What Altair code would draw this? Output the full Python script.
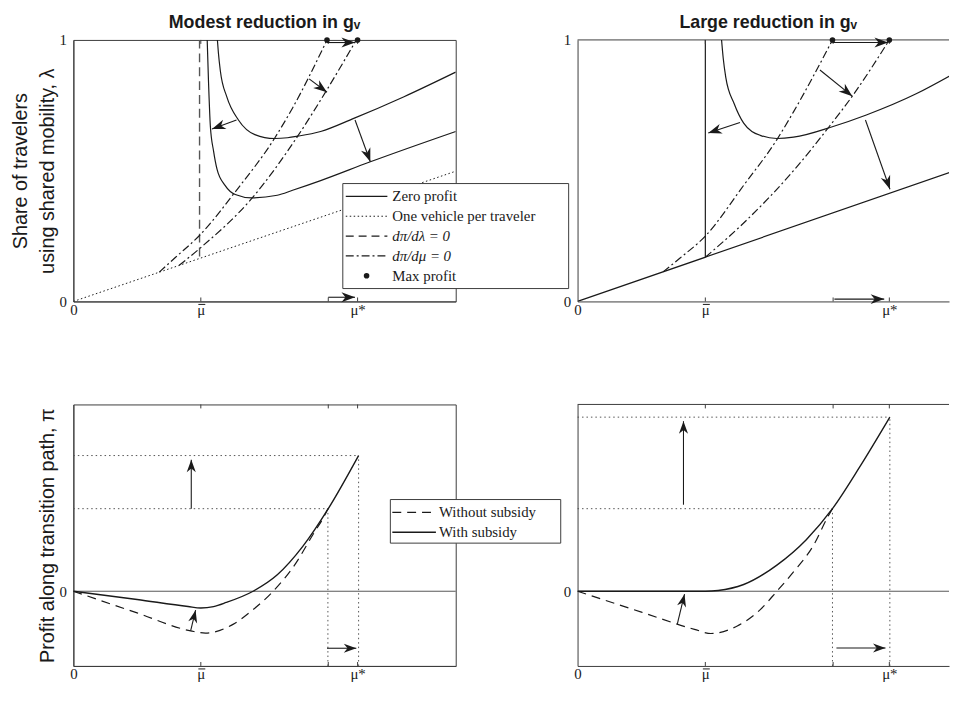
import math
import altair as alt
import pandas as pd

# ------------------------------------------------------------------ data
MU_BAR = 1.0          # labelled tick  "mu bar"
MU_OLD = 2.0          # unlabelled tick (previous optimum)
MU_STAR_L = 2.23      # labelled tick "mu*" (left panels)
MU_STAR_R = 2.44      # labelled tick "mu*" (right panels)
X_MAX_L = 3.0
X_MAX_R = 2.907

# ---- top-left : modest reduction in g_v
TL_ZP_BEFORE_MU = [1.13, 1.138, 1.153, 1.204, 1.295, 1.424, 1.579, 1.68, 1.76, 1.94, 2.2, 2.59, 3.0]
TL_ZP_BEFORE_LAM = [1.0, 0.95, 0.882, 0.782, 0.694, 0.638, 0.623, 0.626, 0.632, 0.650, 0.70, 0.782, 0.877]
TL_ZP_AFTER_MU = [1.05, 1.06, 1.075, 1.10, 1.127, 1.19, 1.27, 1.40, 1.60, 1.72, 1.94, 2.33, 3.0]
TL_ZP_AFTER_LAM = [1.0, 0.845, 0.669, 0.575, 0.506, 0.444, 0.409, 0.396, 0.406, 0.425, 0.462, 0.534, 0.650]
TL_ONEVEH_MU = [0.0, 3.0]
TL_ONEVEH_LAM = [0.0, 0.498]
TL_DPDL_MU = [0.99, 0.99]
TL_DPDL_LAM = [0.172, 1.0]
TL_DPDM_BEFORE_MU = [0.674, 0.80, 0.997, 1.27, 1.58, 1.72, 1.99]
TL_DPDM_BEFORE_LAM = [0.112, 0.168, 0.256, 0.419, 0.625, 0.74, 1.0]
TL_DPDM_AFTER_MU = [0.83, 0.997, 1.40, 1.76, 1.99, 2.22]
TL_DPDM_AFTER_LAM = [0.138, 0.205, 0.394, 0.632, 0.81, 1.0]
TL_MAX_MU = [1.99, 2.23]
TL_MAX_LAM = [1.0, 1.0]
TL_ARR_FROM_MU = [1.28, 2.21, 1.85, 1.99, 2.0]
TL_ARR_FROM_LAM = [0.694, 0.694, 0.851, 0.99, 0.016]
TL_ARR_TO_MU = [1.088, 2.33, 1.99, 2.21, 2.21]
TL_ARR_TO_LAM = [0.659, 0.534, 0.80, 0.99, 0.016]

# ---- top-right : large reduction in g_v
TR_ZP_BEFORE_MU = [1.127, 1.14, 1.16, 1.225, 1.30, 1.43, 1.56, 1.69, 2.0, 2.26, 2.65, 2.915]
TR_ZP_BEFORE_LAM = [1.0, 0.93, 0.857, 0.757, 0.682, 0.635, 0.623, 0.628, 0.669, 0.713, 0.794, 0.863]
TR_ZP_AFTER_MU = [1.0, 1.0, 0.0, 2.915]
TR_ZP_AFTER_LAM = [1.0, 0.169, 0.0, 0.494]
TR_DPDM_BEFORE_MU = [0.669, 0.80, 0.998, 1.30, 1.56, 1.69, 1.995]
TR_DPDM_BEFORE_LAM = [0.113, 0.165, 0.249, 0.444, 0.619, 0.725, 1.0]
TR_DPDM_AFTER_MU = [1.0, 1.30, 1.69, 1.97, 2.15, 2.44]
TR_DPDM_AFTER_LAM = [0.169, 0.30, 0.50, 0.669, 0.785, 1.0]
TR_MAX_MU = [1.995, 2.44]
TR_MAX_LAM = [1.0, 1.0]
TR_ARR_FROM_MU = [1.271, 1.897, 2.253, 1.995, 2.01]
TR_ARR_FROM_LAM = [0.684, 0.885, 0.694, 0.99, 0.009]
TR_ARR_TO_MU = [1.023, 2.15, 2.445, 2.43, 2.40]
TR_ARR_TO_LAM = [0.644, 0.785, 0.429, 0.99, 0.009]

# ---- bottom-left : profit along transition path
BL_WITH_MU = [0.0, 0.5, 0.9, 1.0, 1.1, 1.2, 1.41, 1.6, 1.8, 2.0, 2.238]
BL_WITH_PI = [0.0, -0.11, -0.205, -0.224, -0.205, -0.15, 0.0, 0.22, 0.6, 1.105, 1.816]
BL_WO_MU = [0.0, 0.5, 0.92, 1.036, 1.256, 1.40, 1.553, 1.734, 1.889, 1.967, 1.997]
BL_WO_PI = [0.0, -0.29, -0.53, -0.56, -0.44, -0.26, -0.026, 0.346, 0.785, 1.0, 1.105]
BL_LEVEL_MU = [1.997, 2.238]
BL_LEVEL_PI = [1.105, 1.816]
BL_ARR_FROM_MU = [0.925, 0.92, 1.99]
BL_ARR_FROM_PI = [1.105, -0.53, -0.763]
BL_ARR_TO_MU = [0.925, 0.959, 2.22]
BL_ARR_TO_PI = [1.76, -0.254, -0.763]

# ---- bottom-right
BR_WITH_MU = [0.0, 1.0, 1.1, 1.3, 1.56, 1.79, 1.995, 2.207, 2.444]
BR_WITH_PI = [0.0, 0.0, 0.01, 0.09, 0.35, 0.69, 1.105, 1.66, 2.33]
BR_WO_MU = [0.0, 0.5, 0.915, 1.044, 1.25, 1.43, 1.56, 1.69, 1.845, 1.96, 1.995]
BR_WO_PI = [0.0, -0.28, -0.51, -0.566, -0.465, -0.246, 0.0, 0.259, 0.61, 1.0, 1.105]
BR_LEVEL_MU = [1.995, 2.444]
BR_LEVEL_PI = [1.105, 2.33]
BR_ARR_FROM_MU = [0.829, 0.78, 2.026]
BR_ARR_FROM_PI = [1.158, -0.443, -0.76]
BR_ARR_TO_MU = [0.829, 0.837, 2.41]
BR_ARR_TO_PI = [2.276, -0.04, -0.76]

TOP_LEGEND = ["Zero profit", "One vehicle per traveler", "dπ/dλ = 0", "dπ/dμ = 0", "Max profit"]
BOT_LEGEND = ["Without subsidy", "With subsidy"]

# ------------------------------------------------------------------ style
INK = "#1a1a1a"
FRAME = "#3c3c3c"
GREY = "#555555"
SANS = "Liberation Sans, Arial, sans-serif"
SERIF = "Liberation Serif, DejaVu Serif, serif"
W_L, W_R, H = 386, 375, 264
LW = 1.2
DASH = [8, 5]
DASHDOT = [8, 3, 2, 3]
DOT = [1.5, 2.5]
ARROW_SHAPE = "M0,0 L-0.62,1.7 L0,1.2 L0.62,1.7 Z"


class Panel:
    def __init__(self, width, xmax, mu_star, ydom, yvalues, ytitle, framed):
        self.width = width
        self.xmax = xmax
        self.mu_star = mu_star
        self.ydom = ydom
        self.kx = width / xmax
        self.ky = H / (ydom[1] - ydom[0])
        self.framed = framed
        self.layers = []
        self.xaxis = alt.Axis(
            values=[0, MU_BAR, mu_star],
            labelExpr="datum.value == 0 ? '0' : (datum.value == 1 ? 'μ' : 'μ*')",
            ticks=False, grid=False, domain=True, domainColor=FRAME, domainWidth=1,
            labelFont=SERIF, labelFontSize=15, labelColor=INK, labelPadding=1,
            labelFlush=False, labelOverlap=False, title=None)
        self.yaxis = alt.Axis(
            values=yvalues, format=".0f",
            ticks=False, grid=False, domain=True, domainColor=FRAME, domainWidth=1,
            labelFont=SERIF, labelFontSize=15, labelColor=INK, labelPadding=7,
            labelFlush=False, labelOverlap=False,
            title=ytitle, titleFont=SANS, titleFontSize=20, titleFontWeight="normal",
            titleColor=INK, titleLineHeight=27, titlePadding=2)

    def X(self, f):
        return alt.X(f"{f}:Q", scale=alt.Scale(domain=[0, self.xmax], nice=False, zero=False),
                     axis=self.xaxis)

    def Y(self, f):
        return alt.Y(f"{f}:Q", scale=alt.Scale(domain=self.ydom, nice=False, zero=False),
                     axis=self.yaxis)

    def line(self, mu, v, dash=None, color=INK, width=LW, interp="monotone"):
        df = pd.DataFrame({"mu": mu, "v": v, "i": list(range(len(mu)))})
        kw = dict(color=color, strokeWidth=width, interpolate=interp, clip=True)
        if dash:
            kw["strokeDash"] = dash
        self.layers.append(alt.Chart(df).mark_line(**kw).encode(
            x=self.X("mu"), y=self.Y("v"), order="i:Q"))

    def hrule(self, v, color=GREY, width=1.0):
        df = pd.DataFrame({"v": [v]})
        self.layers.append(alt.Chart(df).mark_rule(color=color, strokeWidth=width).encode(
            y=self.Y("v")))

    def levels(self, mu, v):
        df = pd.DataFrame({"mu": mu, "v": v, "z": [0.0] * len(mu), "b": [self.ydom[0]] * len(mu)})
        self.layers.append(alt.Chart(df).mark_rule(color=GREY, strokeDash=[1.5, 3], strokeWidth=1).encode(
            x=self.X("z"), x2="mu:Q", y=self.Y("v")))
        self.layers.append(alt.Chart(df).mark_rule(color=GREY, strokeDash=[1.5, 3], strokeWidth=1).encode(
            x=self.X("mu"), y=self.Y("b"), y2="v:Q"))

    def arrows(self, x1, y1, x2, y2, size, color=INK, width=1.1):
        ang = []
        for a, b, c, d in zip(x1, y1, x2, y2):
            dx = (c - a) * self.kx
            dy = -(d - b) * self.ky
            ang.append(math.degrees(math.atan2(dx, -dy)) % 360)
        df = pd.DataFrame({"x1": x1, "y1": y1, "x2": x2, "y2": y2, "ang": ang})
        self.layers.append(alt.Chart(df).mark_rule(color=color, strokeWidth=width).encode(
            x=self.X("x1"), y=self.Y("y1"), x2="x2:Q", y2="y2:Q"))
        self.layers.append(alt.Chart(df).mark_point(
            shape=ARROW_SHAPE, filled=True, color=color, size=size, opacity=1, strokeWidth=0).encode(
            x=self.X("x2"), y=self.Y("y2"), angle=alt.Angle("ang:Q", scale=None)))

    def dots(self, mu, v):
        df = pd.DataFrame({"mu": mu, "v": v})
        self.layers.append(alt.Chart(df).mark_point(
            shape="circle", filled=True, color=INK, size=32, opacity=1).encode(
            x=self.X("mu"), y=self.Y("v")))

    def inner_ticks(self):
        df = pd.DataFrame({"t": [MU_BAR, MU_OLD, self.mu_star]})
        self.layers.append(alt.Chart(df).mark_rule(color=FRAME, strokeWidth=1).encode(
            x=self.X("t"), y=alt.value(H), y2=alt.value(H - 4)))
        self.layers.append(alt.Chart(df).mark_rule(color=FRAME, strokeWidth=1).encode(
            x=self.X("t"), y=alt.value(0), y2=alt.value(4)))
        # the bar of the "mu bar" tick label
        bar = pd.DataFrame({"t": [MU_BAR]})
        self.layers.append(alt.Chart(bar).mark_tick(
            orient="horizontal", size=7, thickness=1, color=INK, opacity=1).encode(
            x=self.X("t"), y=alt.value(H + 3), xOffset=alt.value(1)))

    # pixel-placed legend pieces
    def leg_box(self, x, x2, y, y2):
        df = pd.DataFrame({"a": [0]})
        self.layers.append(alt.Chart(df).mark_rect(fill="white", stroke=FRAME, strokeWidth=1).encode(
            x=alt.value(x), x2=alt.value(x2), y=alt.value(y), y2=alt.value(y2)))

    def leg_line(self, x, x2, y, dash=None, width=LW, color=INK):
        df = pd.DataFrame({"a": [0]})
        kw = dict(color=color, strokeWidth=width)
        if dash:
            kw["strokeDash"] = dash
        self.layers.append(alt.Chart(df).mark_rule(**kw).encode(
            x=alt.value(x), x2=alt.value(x2), y=alt.value(y)))

    def leg_dot(self, x, y):
        df = pd.DataFrame({"a": [0]})
        self.layers.append(alt.Chart(df).mark_point(shape="circle", filled=True, color=INK,
                                                    size=32, opacity=1).encode(
            x=alt.value(x), y=alt.value(y)))

    def leg_text(self, x, y, text, italic=False):
        df = pd.DataFrame({"a": [0]})
        kw = dict(align="left", baseline="middle", font=SERIF, fontSize=15, color=INK)
        if italic:
            kw["fontStyle"] = "italic"
        self.layers.append(alt.Chart(df).mark_text(**kw).encode(
            x=alt.value(x), y=alt.value(y), text=alt.value(text)))

    def chart(self, title=None, dx=0):
        props = dict(width=self.width, height=H)
        if not self.framed:
            props["view"] = alt.ViewBackground(stroke="transparent")
        if title:
            props["title"] = alt.TitleParams(text=title, font=SANS, fontSize=18, fontWeight="bold",
                                             color=INK, offset=1, dx=dx)
        return alt.layer(*self.layers).properties(**props)


# ---------------------------------------------------------------- top-left
tl = Panel(W_L, X_MAX_L, MU_STAR_L, [0, 1], [0, 1],
           ["Share of travelers", "using shared mobility, λ"], True)
tl.line(TL_ONEVEH_MU, TL_ONEVEH_LAM, dash=DOT, width=1.0, interp="linear")
tl.line(TL_DPDL_MU, TL_DPDL_LAM, dash=[9, 5], color=GREY, width=1.4, interp="linear")
tl.line(TL_DPDM_BEFORE_MU, TL_DPDM_BEFORE_LAM, dash=DASHDOT)
tl.line(TL_DPDM_AFTER_MU, TL_DPDM_AFTER_LAM, dash=DASHDOT)
tl.line(TL_ZP_BEFORE_MU, TL_ZP_BEFORE_LAM)
tl.line(TL_ZP_AFTER_MU, TL_ZP_AFTER_LAM)
tl.inner_ticks()
tl.arrows(TL_ARR_FROM_MU, TL_ARR_FROM_LAM, TL_ARR_TO_MU, TL_ARR_TO_LAM, size=260)
tl.dots(TL_MAX_MU, TL_MAX_LAM)
# legend
tl.leg_box(272, 500, 145, 251)
rows_y = [158, 178, 198, 218, 238]
tl.leg_line(275, 317, rows_y[0])
tl.leg_line(275, 317, rows_y[1], dash=DOT, width=1.0)
tl.leg_line(275, 317, rows_y[2], dash=DASH)
tl.leg_line(275, 317, rows_y[3], dash=DASHDOT)
tl.leg_dot(296, rows_y[4])
for k, (txt, yy) in enumerate(zip(TOP_LEGEND, rows_y)):
    tl.leg_text(322, yy, txt, italic=(k in (2, 3)))

# ---------------------------------------------------------------- top-right
tr = Panel(W_R, X_MAX_R, MU_STAR_R, [0, 1], [0, 1], None, False)
tr.hrule(1.0, color=FRAME)
tr.line(TR_DPDM_BEFORE_MU, TR_DPDM_BEFORE_LAM, dash=DASHDOT)
tr.line(TR_DPDM_AFTER_MU, TR_DPDM_AFTER_LAM, dash=DASHDOT)
tr.line(TR_ZP_BEFORE_MU, TR_ZP_BEFORE_LAM)
tr.line(TR_ZP_AFTER_MU, TR_ZP_AFTER_LAM, interp="linear")
tr.inner_ticks()
tr.arrows(TR_ARR_FROM_MU, TR_ARR_FROM_LAM, TR_ARR_TO_MU, TR_ARR_TO_LAM, size=260)
tr.dots(TR_MAX_MU, TR_MAX_LAM)

# ---------------------------------------------------------------- bottom-left
bl = Panel(W_L, X_MAX_L, MU_STAR_L, [-1, 2.5], [0], "Profit along transition path, π", True)
bl.hrule(0.0)
bl.levels(BL_LEVEL_MU, BL_LEVEL_PI)
bl.line(BL_WO_MU, BL_WO_PI, dash=[9, 6])
bl.line(BL_WITH_MU, BL_WITH_PI, width=1.4)
bl.inner_ticks()
bl.arrows(BL_ARR_FROM_MU, BL_ARR_FROM_PI, BL_ARR_TO_MU, BL_ARR_TO_PI, size=220)
bl.leg_box(320, 492, 96, 140)
bl.leg_line(322, 366, 109, dash=[9, 6])
bl.leg_line(322, 366, 129, width=1.4)
bl.leg_text(369, 109, BOT_LEGEND[0])
bl.leg_text(369, 129, BOT_LEGEND[1])

# ---------------------------------------------------------------- bottom-right
br = Panel(W_R, X_MAX_R, MU_STAR_R, [-1, 2.5], [0], None, False)
br.hrule(2.5, color=FRAME)
br.hrule(0.0)
br.levels(BR_LEVEL_MU, BR_LEVEL_PI)
br.line(BR_WO_MU, BR_WO_PI, dash=[9, 6])
br.line(BR_WITH_MU, BR_WITH_PI, width=1.4)
br.inner_ticks()
br.arrows(BR_ARR_FROM_MU, BR_ARR_FROM_PI, BR_ARR_TO_MU, BR_ARR_TO_PI, size=220)

chart = alt.concat(
    tl.chart("Modest reduction in gᵥ"),
    tr.chart("Large reduction in gᵥ", dx=5),
    bl.chart(),
    br.chart(),
    columns=2,
    spacing={"row": 104, "column": 123},
    bounds="flush",
).properties(
    padding={"left": 2, "top": 2, "right": 0, "bottom": 0},
    background="white",
).configure_view(stroke=FRAME, strokeWidth=1)

chart.save("out.html", embed_options={"renderer": "svg", "actions": False})
